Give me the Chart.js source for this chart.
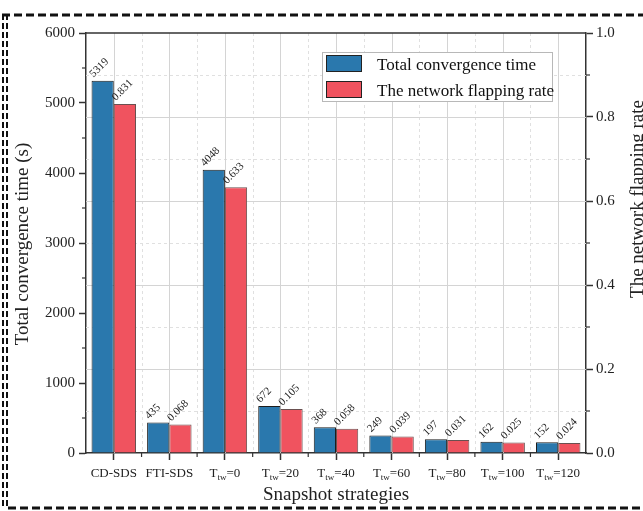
<!DOCTYPE html>
<html>
<head>
<meta charset="utf-8">
<title>Snapshot strategies</title>
<script src="https://cdn.jsdelivr.net/npm/chart.js@4.4.1/dist/chart.umd.min.js"></script>
<style>
	html, body { margin: 0; padding: 0; background: #fff; }
	#wrap { width: 643px; height: 511px; }
</style>
</head>
<body>
<div id="wrap"><canvas id="convergence-chart" width="643" height="511"></canvas></div>
<script>
(function() {
	'use strict';

	// Categories (T_{..} marks a subscript) and the two series
	const strategies = ['CD-SDS', 'FTI-SDS', 'T_{tw}=0', 'T_{tw}=20', 'T_{tw}=40', 'T_{tw}=60', 'T_{tw}=80', 'T_{tw}=100', 'T_{tw}=120'];
	const convergenceTime = [5319, 435, 4048, 672, 368, 249, 197, 162, 152];
	const flappingRate = [0.831, 0.068, 0.633, 0.105, 0.058, 0.039, 0.031, 0.025, 0.024];
	const seriesNames = ['Total convergence time', 'The network flapping rate'];
	const seriesColors = ['#2a78ad', '#f0535f'];

	// Axis ranges and steps
	const timeRange = [0, 6000, 1000];
	const rateRange = [0, 1, 0.2];

	const SERIF = '"Liberation Serif", "Times New Roman", serif';
	const AXIS = '#333';

	/**
	 * Split a label like "T_{tw}=20" into normal/subscript runs
	 */
	function parseLabel(label) {
		const parts = [];
		const re = /_\{([^}]*)\}/g;
		let last = 0, m;
		while ((m = re.exec(label)) !== null) {
			if (m.index > last) parts.push({ text: label.slice(last, m.index), sub: false });
			parts.push({ text: m[1], sub: true });
			last = re.lastIndex;
		}
		if (last < label.length) parts.push({ text: label.slice(last), sub: false });
		return parts;
	}

	function line(ctx, x1, y1, x2, y2) {
		ctx.beginPath();
		ctx.moveTo(x1, y1);
		ctx.lineTo(x2, y2);
		ctx.stroke();
	}

	// Dashed outer frame around the figure
	const framePlugin = {
		id: 'frame',
		beforeDraw(chart) {
			const ctx = chart.ctx;
			ctx.save();
			ctx.strokeStyle = '#111';
			ctx.lineWidth = 3;
			ctx.setLineDash([8, 4]);
			line(ctx, 2, 15, chart.width, 15);
			line(ctx, 8, 508, chart.width, 508);
			ctx.lineWidth = 2;
			ctx.setLineDash([6, 3]);
			line(ctx, 3, 14, 3, 509);
			line(ctx, 7, 14, 7, 509);
			ctx.restore();
		}
	};

	// Solid major / dashed minor grid inside the plot area
	const gridPlugin = {
		id: 'grid',
		beforeDatasetsDraw(chart) {
			const ctx = chart.ctx;
			const { left, right, top, bottom } = chart.chartArea;
			const xs = chart.scales.x;
			const ys = chart.scales.y1;
			const rateTicks = ys.ticks.map(t => t.value);

			ctx.save();
			ctx.lineWidth = 1;

			// minor: category boundaries and half steps of the rate axis
			ctx.strokeStyle = '#e0e0e0';
			ctx.setLineDash([3, 3]);
			for (let i = 1; i < strategies.length; i++) {
				const px = Math.round(xs.getPixelForValue(i - 0.5)) + 0.5;
				line(ctx, px, top, px, bottom);
			}
			for (let i = 1; i < rateTicks.length; i++) {
				const py = Math.round(ys.getPixelForValue((rateTicks[i - 1] + rateTicks[i]) / 2)) + 0.5;
				line(ctx, left, py, right, py);
			}

			// major: category centres and rate ticks
			ctx.strokeStyle = '#d4d4d4';
			ctx.setLineDash([]);
			strategies.forEach((_, i) => {
				const px = Math.round(xs.getPixelForValue(i)) + 0.5;
				line(ctx, px, top, px, bottom);
			});
			rateTicks.slice(1, -1).forEach(v => {
				const py = Math.round(ys.getPixelForValue(v)) + 0.5;
				line(ctx, left, py, right, py);
			});
			ctx.restore();
		}
	};

	// Rotated value labels on top of every bar
	const valueLabelPlugin = {
		id: 'valueLabels',
		afterDatasetsDraw(chart) {
			const ctx = chart.ctx;
			ctx.save();
			ctx.font = '11px ' + SERIF;
			ctx.fillStyle = '#222';
			ctx.textAlign = 'left';
			ctx.textBaseline = 'alphabetic';
			chart.data.datasets.forEach((ds, di) => {
				chart.getDatasetMeta(di).data.forEach((bar, i) => {
					const v = ds.data[i];
					const text = di === 0 ? String(v) : v.toFixed(3);
					ctx.save();
					ctx.translate(bar.x - bar.width / 2 + 2, bar.y - 3);
					ctx.rotate(-Math.PI / 4);
					ctx.fillText(text, 0, 0);
					ctx.restore();
				});
			});
			ctx.restore();
		}
	};

	// Category labels, minor ticks, titles, legend and top frame line
	const decorPlugin = {
		id: 'decor',
		afterDraw(chart) {
			const ctx = chart.ctx;
			const { left, right, top, bottom } = chart.chartArea;
			const xs = chart.scales.x;
			const yl = chart.scales.y;
			const yr = chart.scales.y1;

			ctx.save();

			// top frame line of the plot
			ctx.strokeStyle = AXIS;
			ctx.lineWidth = 1.5;
			line(ctx, left, top, right, top);

			// minor ticks
			ctx.lineWidth = 1.2;
			for (let i = 1; i < strategies.length; i++) {
				const px = xs.getPixelForValue(i - 0.5);
				line(ctx, px, bottom, px, bottom + 4);
			}
			const lt = yl.ticks.map(t => t.value);
			for (let i = 1; i < lt.length; i++) {
				const py = yl.getPixelForValue((lt[i - 1] + lt[i]) / 2);
				line(ctx, left - 4, py, left, py);
			}
			const rt = yr.ticks.map(t => t.value);
			for (let i = 1; i < rt.length; i++) {
				const py = yr.getPixelForValue((rt[i - 1] + rt[i]) / 2);
				line(ctx, right, py, right + 4, py);
			}

			// category labels with subscripts
			ctx.fillStyle = '#222';
			ctx.textBaseline = 'alphabetic';
			ctx.textAlign = 'left';
			const mainFont = '13px ' + SERIF;
			const subFont = '9px ' + SERIF;
			strategies.forEach((label, i) => {
				const parts = parseLabel(label);
				let width = 0;
				parts.forEach(p => {
					ctx.font = p.sub ? subFont : mainFont;
					p.w = ctx.measureText(p.text).width;
					width += p.w;
				});
				let cx = xs.getPixelForValue(i) - width / 2;
				parts.forEach(p => {
					ctx.font = p.sub ? subFont : mainFont;
					ctx.fillText(p.text, cx, p.sub ? 480 : 477);
					cx += p.w;
				});
			});

			// axis titles
			ctx.font = '19px ' + SERIF;
			ctx.textAlign = 'center';
			ctx.fillText('Snapshot strategies', (left + right) / 2, 500);

			ctx.save();
			ctx.translate(28, (top + bottom) / 2 + 1);
			ctx.rotate(-Math.PI / 2);
			ctx.fillText('Total convergence time (s)', 0, 0);
			ctx.restore();

			ctx.save();
			ctx.translate(643, 199);
			ctx.rotate(-Math.PI / 2);
			ctx.fillText(seriesNames[1], 0, 0);
			ctx.restore();

			// legend box
			const lx = 322, ly = 52, lw = 230, lh = 49;
			ctx.fillStyle = '#fff';
			ctx.fillRect(lx, ly, lw, lh);
			ctx.strokeStyle = '#b8b8b8';
			ctx.lineWidth = 1;
			ctx.strokeRect(lx + 0.5, ly + 0.5, lw, lh);
			ctx.font = '17px ' + SERIF;
			ctx.textAlign = 'left';
			seriesNames.forEach((name, i) => {
				const sy = 55 + i * 26;
				ctx.fillStyle = seriesColors[i];
				ctx.fillRect(326, sy, 36, 17);
				ctx.strokeStyle = '#222';
				ctx.strokeRect(326.5, sy + 0.5, 35, 16);
				ctx.fillStyle = '#111';
				ctx.fillText(name, 377, sy + 15);
			});

			ctx.restore();
		}
	};

	const tickFont = { family: SERIF, size: 15 };

	new Chart(document.getElementById('convergence-chart'), {
		type: 'bar',
		data: {
			labels: strategies,
			datasets: [
				{
					label: seriesNames[0],
					data: convergenceTime,
					yAxisID: 'y',
					backgroundColor: seriesColors[0],
					borderColor: '#1d1d1d',
					borderWidth: 1,
					categoryPercentage: 0.8,
					barPercentage: 1.0
				},
				{
					label: seriesNames[1],
					data: flappingRate,
					yAxisID: 'y1',
					backgroundColor: seriesColors[1],
					borderColor: '#6a5050',
					borderWidth: 1,
					categoryPercentage: 0.8,
					barPercentage: 1.0
				}
			]
		},
		options: {
			responsive: false,
			animation: false,
			devicePixelRatio: 1,
			layout: {
				padding: { top: 33, left: 0, right: 0, bottom: 0 }
			},
			plugins: {
				legend: { display: false },
				tooltip: { enabled: false }
			},
			scales: {
				x: {
					type: 'category',
					offset: true,
					ticks: { display: false },
					grid: {
						drawOnChartArea: false,
						offset: false,
						tickLength: 7,
						tickColor: AXIS,
						tickWidth: 1.5
					},
					border: { color: AXIS, width: 1.5 },
					afterFit(scale) { scale.height = 58; }
				},
				y: {
					position: 'left',
					min: timeRange[0],
					max: timeRange[1],
					ticks: {
						stepSize: timeRange[2],
						font: tickFont,
						color: '#222',
						padding: 4,
						callback: v => String(v)
					},
					grid: {
						drawOnChartArea: false,
						tickLength: 7,
						tickColor: AXIS,
						tickWidth: 1.5
					},
					border: { color: AXIS, width: 1.5 },
					afterFit(scale) { scale.width = 86; }
				},
				y1: {
					position: 'right',
					min: rateRange[0],
					max: rateRange[1],
					ticks: {
						stepSize: rateRange[2],
						font: tickFont,
						color: '#222',
						padding: 3,
						callback: v => Number(v).toFixed(1)
					},
					grid: {
						drawOnChartArea: false,
						tickLength: 7,
						tickColor: AXIS,
						tickWidth: 1.5
					},
					border: { color: AXIS, width: 1.5 },
					afterFit(scale) { scale.width = 57; }
				}
			}
		},
		plugins: [framePlugin, gridPlugin, valueLabelPlugin, decorPlugin]
	});
})();
</script>
</body>
</html>
